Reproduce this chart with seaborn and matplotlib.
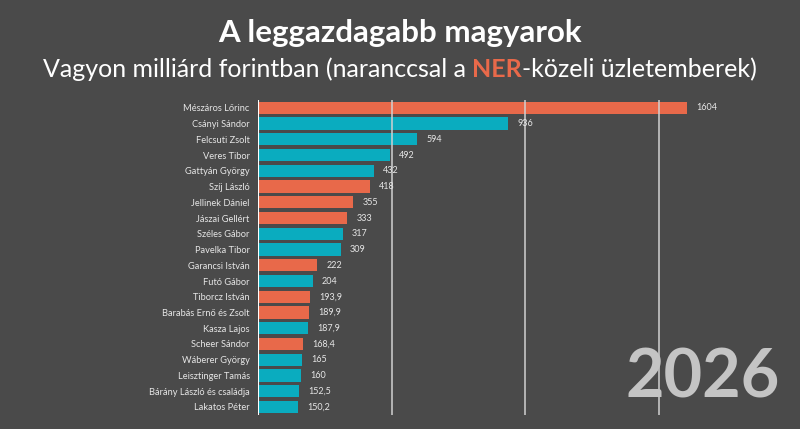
import matplotlib
matplotlib.use("Agg")
import matplotlib.pyplot as plt
import seaborn as sns
import pandas as pd

names = ["Mészáros Lőrinc", "Csányi Sándor", "Felcsuti Zsolt", "Veres Tibor",
         "Gattyán György", "Szíj László", "Jellinek Dániel", "Jászai Gellért",
         "Széles Gábor", "Pavelka Tibor", "Garancsi István", "Futó Gábor",
         "Tiborcz István", "Barabás Ernő és Zsolt", "Kasza Lajos", "Scheer Sándor",
         "Wáberer György", "Leisztinger Tamás", "Bárány László és családja", "Lakatos Péter"]
values = [1604, 936, 594, 492, 432, 418, 355, 333, 317, 309, 222, 204,
          193.9, 189.9, 187.9, 168.4, 165, 160, 152.5, 150.2]
ner = ["Mészáros Lőrinc", "Szíj László", "Jellinek Dániel", "Jászai Gellért",
       "Garancsi István", "Tiborcz István", "Barabás Ernő és Zsolt", "Scheer Sándor"]

df = pd.DataFrame({"name": names, "value": values})
df["group"] = ["NER" if n in ner else "egyéb" for n in names]

bg = "#4a4a4a"
orange = "#e8694a"
teal = "#0aacbf"

sns.set_theme(style="dark")
plt.rcParams["font.family"] = ["Lato", "DejaVu Sans"]

fig = plt.figure(figsize=(8, 4.29), dpi=100, facecolor=bg)
ax = fig.add_axes([0.3225, 0.033, 0.652, 0.734])
ax.set_facecolor(bg)

sns.barplot(data=df, x="value", y="name", hue="group", dodge=False, width=0.78,
            palette={"NER": orange, "egyéb": teal}, saturation=1, linewidth=0,
            legend=False, ax=ax, zorder=2)

ax.set_xlim(0, 1950)
ax.set_ylim(len(names) - 0.5, -0.5)
for gx in [500, 1000, 1500]:
    ax.axvline(gx, color="#d0d0d0", lw=1.3, zorder=3, alpha=0.85)
ax.axvline(0, color="#ffffff", lw=1.5, zorder=4)

for i, v in enumerate(values):
    lab = f"{v:.0f}" if float(v).is_integer() else f"{v:.1f}".replace(".", ",")
    ax.text(v + 35, i, lab, va="center", ha="left", color="#e6e6e6", fontsize=6.5)

ax.set_xticks([])
ax.tick_params(axis="y", length=0, pad=6, labelsize=6.7, labelcolor="#e6e6e6")
ax.set_xlabel("")
ax.set_ylabel("")
for s in ax.spines.values():
    s.set_visible(False)

fig.text(0.5, 0.922, "A leggazdagabb magyarok", ha="center", va="center",
         color="white", fontsize=22.5, fontweight="bold")

# subtitle with orange NER
parts = [("Vagyon milliárd forintban (naranccsal a ", "white", "normal"),
         ("NER", orange, "bold"),
         ("-közeli üzletemberek)", "white", "normal")]
renderer = fig.canvas.get_renderer()
widths = []
texts = []
for s, c, w in parts:
    t = fig.text(0, 0.838, s, color=c, fontsize=18, fontweight=w, va="center", ha="left")
    texts.append(t)
    widths.append(t.get_window_extent(renderer).width / fig.bbox.width)
x = 0.5 - sum(widths) / 2
for t, w in zip(texts, widths):
    t.set_x(x)
    x += w

fig.text(0.975, 0.118, "2026", ha="right", va="center", color="#c4c4c4",
         fontsize=48, fontweight="bold")

fig.savefig("out.png", dpi=100, facecolor=bg)
